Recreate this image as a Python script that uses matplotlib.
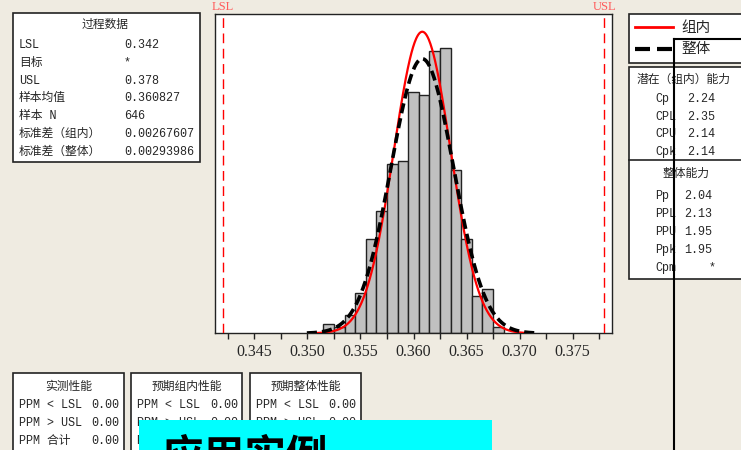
import numpy as np
import matplotlib.pyplot as plt
from matplotlib.patches import Rectangle

# process data
lsl = 0.342
usl = 0.378
target = '*'
mean = 0.360827
n = 646
sd_within = 0.00267607
sd_overall = 0.00293986

# histogram (bin centres, counts), bin width 0.001
bin_centers = [0.352, 0.353, 0.354, 0.355, 0.356, 0.357, 0.358, 0.359, 0.360,
               0.361, 0.362, 0.363, 0.364, 0.365, 0.366, 0.367, 0.368]
counts = [3, 2, 6, 13, 30, 39, 54, 55, 77, 76, 90, 91, 52, 30, 12, 14, 2]
bin_width = 0.001

xticks = [0.345, 0.350, 0.355, 0.360, 0.365, 0.370, 0.375]
xminor = [0.3425, 0.3475, 0.3525, 0.3575, 0.3625, 0.3675, 0.3725, 0.3775]

# capability tables
pot_title = '潜在（组内）能力'
pot_labels = ['Cp', 'CPL', 'CPU', 'Cpk']
pot_values = ['2.24', '2.35', '2.14', '2.14']
ov_title = '整体能力'
ov_labels = ['Pp', 'PPL', 'PPU', 'Ppk', 'Cpm']
ov_values = ['2.04', '2.13', '1.95', '1.95', '*']

perf_titles = ['实测性能', '预期组内性能', '预期整体性能']
perf_labels = ['PPM < LSL', 'PPM > USL', 'PPM 合计']
perf_values = [[0.00, 0.00, 0.00], [0.00, 0.00, 0.00], [0.00, 0.00, 0.00]]

proc_labels = ['LSL', '目标', 'USL', '样本均值', '样本 N', '标准差（组内）', '标准差（整体）']
proc_values = [f'{lsl:.3f}', target, f'{usl:.3f}', f'{mean:.6f}', str(n),
               f'{sd_within:.8f}', f'{sd_overall:.8f}']

bg = '#EFEBE1'
txt = '#262626'
edge = '#222222'
fam = ['Liberation Serif', 'Noto Sans CJK SC']
mono = ['Liberation Mono', 'Noto Sans CJK SC']
W, H = 741, 450

fig = plt.figure(figsize=(W / 100, H / 100), dpi=100, facecolor=bg)

# main histogram axes
ax = fig.add_axes([215 / W, 1 - 333.3 / H, (612 - 215) / W, (333.3 - 14) / H])
ax.bar(bin_centers, counts, width=bin_width, color='#C0C0C0', edgecolor=edge,
       linewidth=1.0, zorder=2)

def normal_curve(mu, sd):
    x = np.linspace(mu - 3.7 * sd, mu + 3.7 * sd, 400)
    y = n * bin_width * np.exp(-0.5 * ((x - mu) / sd) ** 2) / (sd * np.sqrt(2 * np.pi))
    return x, y

xw, yw = normal_curve(mean, sd_within)
xo, yo = normal_curve(mean, sd_overall)
ax.plot(xw, yw, color='red', lw=1.6, zorder=3)
lo, = ax.plot(xo, yo, color='black', lw=2.6, zorder=4)
lo.set_dashes([2.8, 1.4])

for v, name in [(lsl, 'LSL'), (usl, 'USL')]:
    ax.axvline(v, color='red', lw=1.0, dashes=(7, 4), zorder=3)
    ax.text(v, 1.003, name, transform=ax.get_xaxis_transform(), ha='center',
            va='bottom', color='#FF5A5A', fontsize=9, family=fam)

ax.set_xlim(0.34129, 0.37871)
ax.set_ylim(0, 101.96)
ax.set_yticks([])
ax.set_xticks(xticks)
ax.set_xticklabels([f'{t:.3f}' for t in xticks], family=fam, fontsize=11.5, color=txt)
ax.set_xticks(xminor, minor=True)
ax.tick_params(axis='x', which='both', direction='out', length=4, width=1, color=edge, pad=4)
for s in ax.spines.values():
    s.set_color(edge)
    s.set_linewidth(1.0)

# overlay in pixel coordinates for the text boxes
ov = fig.add_axes([0, 0, 1, 1], zorder=10)
ov.set_xlim(0, W)
ov.set_ylim(H, 0)
ov.axis('off')
ov.patch.set_visible(False)

def box(x0, y0, x1, y1):
    ov.add_patch(Rectangle((x0, y0), x1 - x0, y1 - y0, facecolor='white',
                           edgecolor=edge, lw=1.2, zorder=1))

def t(x, y, s, ha='left', size=8.5, **kw):
    ov.text(x, y, s, ha=ha, va='center', fontsize=size, color=txt, family=mono, zorder=2, **kw)

# process data box
box(12.7, 13.3, 199.7, 162)
t(105, 25, '过程数据', ha='center')
for i, (lab, val) in enumerate(zip(proc_labels, proc_values)):
    y = 45 + i * 17.8
    t(19, y, lab)
    t(124, y, val)

# legend box
box(628.5, 14, 760, 63)
ov.plot([635, 673], [27.3, 27.3], color='red', lw=2.0, zorder=2)
ov.plot([635, 650], [49, 49], color='black', lw=3.0, zorder=2, solid_capstyle='butt')
ov.plot([657, 672], [49, 49], color='black', lw=3.0, zorder=2, solid_capstyle='butt')
t(681, 28, '组内', size=10.5)
t(681, 49, '整体', size=10.5)

# capability box
box(628.5, 67, 760, 278.7)
ov.plot([628.5, 760], [159.5, 159.5], color=edge, lw=1.2, zorder=2)
t(637, 80, pot_title)
for i, (lab, val) in enumerate(zip(pot_labels, pot_values)):
    y = 99 + i * 17.7
    t(655, y, lab)
    t(715, y, val, ha='right')
t(686, 174, ov_title, ha='center')
for i, (lab, val) in enumerate(zip(ov_labels, ov_values)):
    y = 196 + i * 17.9
    t(655, y, lab)
    t(712, y, val, ha='right' if val != '*' else 'center')

# performance boxes
for k, (x0, x1) in enumerate([(12.7, 124.3), (131, 242), (249.7, 361)]):
    box(x0, 373.3, x1, 470)
    t((x0 + x1) / 2, 387.3, perf_titles[k], ha='center')
    for i, lab in enumerate(perf_labels):
        y = 405 + i * 17.8
        t(x0 + 6, y, lab)
        t(x0 + 79, y, f'{perf_values[k][i]:.2f}')

# cyan label and stray frame lines
ov.add_patch(Rectangle((139.3, 420), 352.4, 40, facecolor='#00FFFF', edgecolor='none', zorder=5))
ov.text(162, 437, '应用实例', ha='left', va='top', fontsize=30, color='black',
        family=['Noto Sans CJK SC'], fontweight='bold', zorder=6)
ov.plot([674, 674], [39, 460], color='black', lw=1.5, zorder=7)
ov.plot([674, 760], [39, 39], color='black', lw=1.5, zorder=7)

fig.savefig('out.png', dpi=100, facecolor=bg)
